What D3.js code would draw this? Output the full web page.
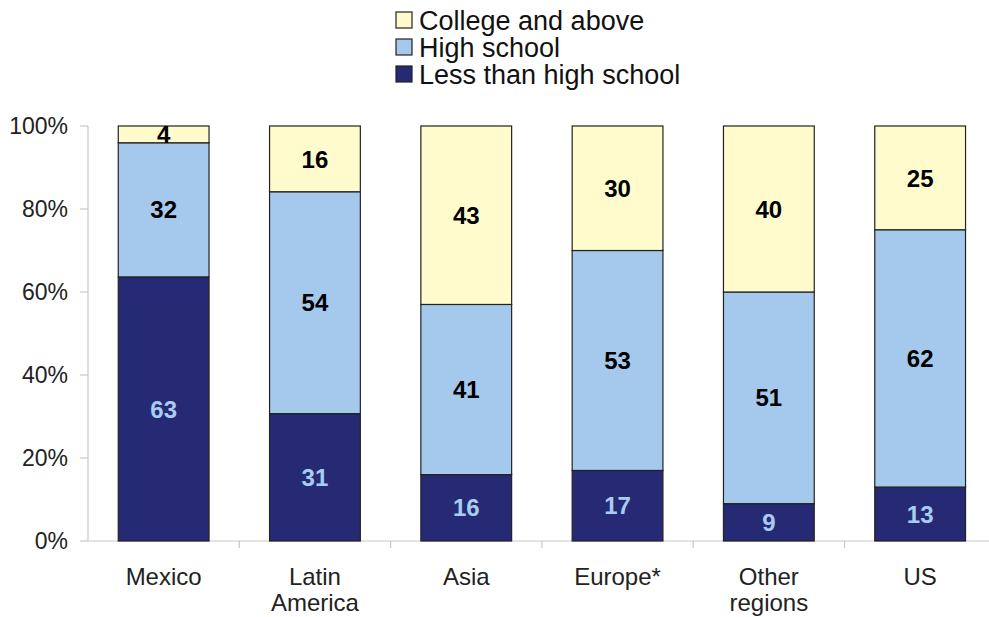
<!DOCTYPE html>
<html>
<head>
<meta charset="utf-8">
<script src="https://cdn.jsdelivr.net/npm/d3@7"></script>
<style>
  body { margin: 0; background: #fff; }
  svg text { font-family: "Liberation Sans", Arial, sans-serif; }
</style>
</head>
<body>
<div id="chart"></div>
<script>
const regions = ['Mexico', 'Latin America', 'Asia', 'Europe*', 'Other regions', 'US'];
const lessThanHS = [63, 31, 16, 17, 9, 13];
const highSchool = [32, 54, 41, 53, 51, 62];
const college = [4, 16, 43, 30, 40, 25];
const yTicks = [0, 0.2, 0.4, 0.6, 0.8, 1];

const seriesNames = ['Less than high school', 'High school', 'College and above'];
const colors = { 'Less than high school': '#262a75', 'High school': '#a5c9ec', 'College and above': '#fffbcc' };
const labelColors = { 'Less than high school': '#a9ccf0', 'High school': '#000', 'College and above': '#000' };

const rows = regions.map((r, i) => ({
  region: r,
  'Less than high school': lessThanHS[i],
  'High school': highSchool[i],
  'College and above': college[i]
}));

const width = 989, height = 617;
const x0 = 88, x1 = 88 + 6 * 151.3, yTop = 126, yBot = 541;

const svg = d3.select('#chart').append('svg')
  .attr('width', width).attr('height', height);

const x = d3.scaleBand().domain(regions).range([x0, x1]).paddingInner(0.4).paddingOuter(0.2);
const y = d3.scaleLinear().domain([0, 1]).range([yBot, yTop]);

const stack = d3.stack().keys(seriesNames).offset(d3.stackOffsetExpand);
const stacked = stack(rows);

// axes
svg.append('line').attr('x1', x0).attr('x2', x0).attr('y1', yTop).attr('y2', yBot)
  .attr('stroke', '#c8c8c8').attr('stroke-width', 1.2);
svg.append('line').attr('x1', x0).attr('x2', x1).attr('y1', yBot).attr('y2', yBot)
  .attr('stroke', '#c8c8c8').attr('stroke-width', 1.2);

svg.selectAll('.ytick').data(yTicks).enter().append('line')
  .attr('x1', x0 - 8).attr('x2', x0).attr('y1', d => y(d)).attr('y2', d => y(d))
  .attr('stroke', '#c8c8c8').attr('stroke-width', 1.2);
svg.selectAll('.ylab').data(yTicks).enter().append('text')
  .attr('x', 68).attr('y', d => y(d)).attr('dy', '0.36em')
  .attr('text-anchor', 'end').attr('font-size', 23).attr('fill', '#222')
  .text(d3.format('.0%'));

// category boundary ticks
const step = x.step();
svg.selectAll('.xtick').data(regions.slice(1)).enter().append('line')
  .attr('x1', (d, i) => x0 + (i + 1) * step).attr('x2', (d, i) => x0 + (i + 1) * step)
  .attr('y1', yBot).attr('y2', yBot + 7)
  .attr('stroke', '#c8c8c8').attr('stroke-width', 1.2);

// bars
const layer = svg.selectAll('.layer').data(stacked).enter().append('g');
layer.selectAll('rect').data(d => d.map(v => ({ key: d.key, v }))).enter().append('rect')
  .attr('x', d => x(d.v.data.region))
  .attr('width', x.bandwidth())
  .attr('y', d => y(d.v[1]))
  .attr('height', d => y(d.v[0]) - y(d.v[1]))
  .attr('fill', d => colors[d.key])
  .attr('stroke', '#222').attr('stroke-width', 1.2);

layer.selectAll('text').data(d => d.map(v => ({ key: d.key, v }))).enter().append('text')
  .attr('x', d => x(d.v.data.region) + x.bandwidth() / 2)
  .attr('y', d => (y(d.v[0]) + y(d.v[1])) / 2)
  .attr('dy', '0.36em')
  .attr('text-anchor', 'middle').attr('font-size', 24).attr('font-weight', 'bold')
  .attr('fill', d => labelColors[d.key])
  .text(d => d.v.data[d.key]);

// category labels
svg.selectAll('.xlab').data(regions).enter().append('text')
  .attr('x', d => x(d) + x.bandwidth() / 2)
  .attr('y', 585)
  .attr('text-anchor', 'middle').attr('font-size', 24).attr('fill', '#222')
  .each(function(d) {
    const parts = d.split(' ');
    const t = d3.select(this);
    parts.forEach((p, i) => {
      t.append('tspan').attr('x', x(d) + x.bandwidth() / 2).attr('dy', i === 0 ? 0 : 26).text(p);
    });
  });

// legend
const legendOrder = ['College and above', 'High school', 'Less than high school'];
const lg = svg.append('g');
legendOrder.forEach((k, i) => {
  const cy = 20 + i * 27;
  lg.append('rect').attr('x', 396).attr('y', cy - 8).attr('width', 16).attr('height', 16)
    .attr('fill', colors[k]).attr('stroke', '#222').attr('stroke-width', 1.2);
  lg.append('text').attr('x', 419).attr('y', cy).attr('dy', '0.36em')
    .attr('font-size', 27).attr('fill', '#111').text(k);
});
</script>
</body>
</html>
